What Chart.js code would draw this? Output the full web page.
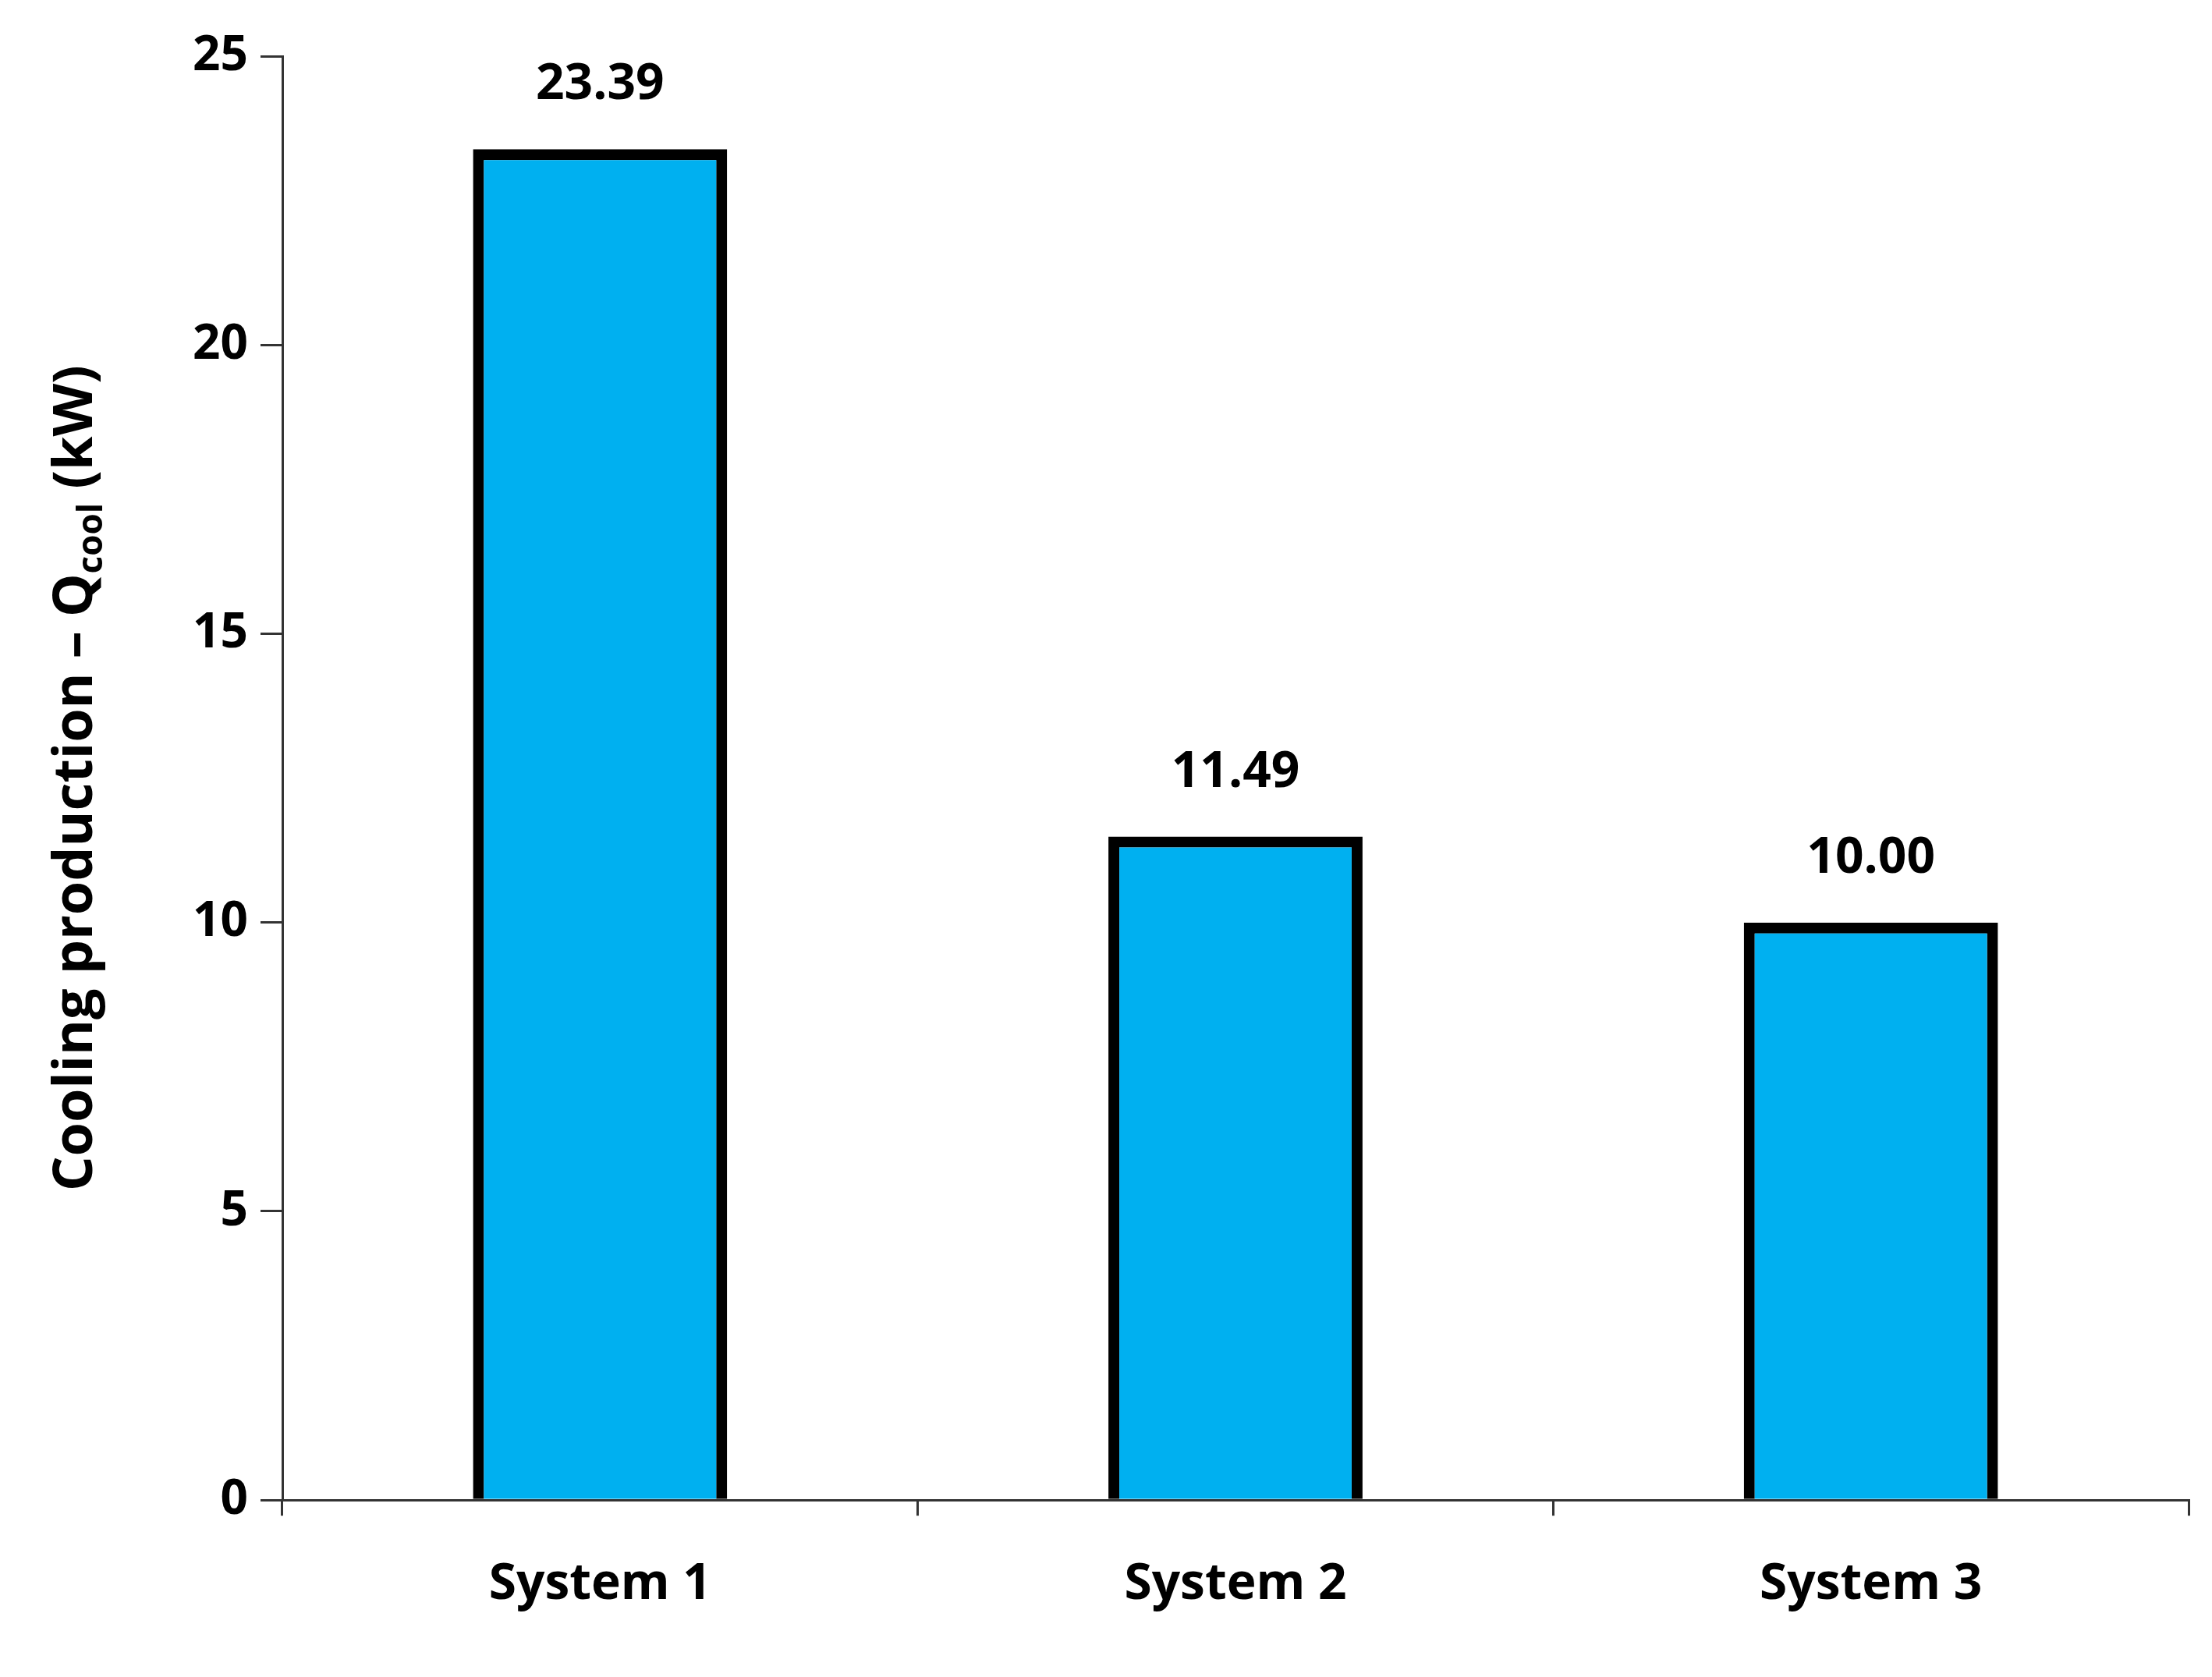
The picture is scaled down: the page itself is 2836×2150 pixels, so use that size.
<!DOCTYPE html>
<html>
<head>
<meta charset="utf-8">
<script src="https://cdn.jsdelivr.net/npm/chart.js@4/dist/chart.umd.min.js"></script>
<style>
  body { margin: 0; background: #fff; }
</style>
</head>
<body>
<canvas id="grafico" width="2836" height="2150"></canvas>
<script>
const categorias = ["System 1", "System 2", "System 3"];
const valores = [23.39, 11.49, 10.00];
const yTicks = [0, 5, 10, 15, 20, 25];

const fuente = "'Open Sans', 'Liberation Sans', sans-serif";

// value labels above bars + rotated y title with subscript
const extras = {
  id: "extras",
  afterDatasetsDraw(chart) {
    const ctx = chart.ctx;
    const meta = chart.getDatasetMeta(0);
    ctx.save();
    ctx.fillStyle = "#000";
    ctx.font = "bold 64px " + fuente;
    ctx.textAlign = "center";
    ctx.textBaseline = "bottom";
    meta.data.forEach((bar, i) => {
      ctx.fillText(valores[i].toFixed(2), bar.x, bar.y - 50);
    });

    const area = chart.chartArea;
    ctx.translate(98, (area.top + area.bottom) / 2);
    ctx.rotate(-Math.PI / 2);
    ctx.textBaseline = "middle";
    const parte1 = "Cooling production \u2013 Q";
    const sub = "cool";
    const parte2 = " (kW)";
    ctx.font = "bold 70px " + fuente;
    const w1 = ctx.measureText(parte1).width;
    const w3 = ctx.measureText(parte2).width;
    ctx.font = "bold 44px " + fuente;
    const w2 = ctx.measureText(sub).width;
    let x = -(w1 + w2 + w3) / 2;
    ctx.textAlign = "left";
    ctx.font = "bold 70px " + fuente;
    ctx.fillText(parte1, x, 0);
    x += w1;
    ctx.font = "bold 44px " + fuente;
    ctx.fillText(sub, x, 20);
    x += w2;
    ctx.font = "bold 70px " + fuente;
    ctx.fillText(parte2, x, 0);
    ctx.restore();
  }
};

new Chart(document.getElementById("grafico").getContext("2d"), {
  type: "bar",
  data: {
    labels: categorias,
    datasets: [{
      data: valores,
      backgroundColor: "#00b0f0",
      borderColor: "#000",
      borderWidth: 14,
      categoryPercentage: 1,
      barPercentage: 0.4
    }]
  },
  options: {
    responsive: false,
    animation: false,
    devicePixelRatio: 1,
    layout: { padding: { top: 72, right: 30, bottom: 30, left: 0 } },
    plugins: { legend: { display: false }, tooltip: { enabled: false } },
    scales: {
      y: {
        min: 0, max: 25,
        afterBuildTicks(axis) { axis.ticks = yTicks.map(v => ({ value: v })); },
        afterFit(axis) { axis.width = 362; },
        grid: { drawOnChartArea: false, tickLength: 28, color: "#333", lineWidth: 3 },
        border: { color: "#333", width: 3 },
        ticks: { color: "#000", font: { family: fuente, weight: "bold", size: 62 }, padding: 16 }
      },
      x: {
        grid: { drawOnChartArea: false, offset: true, tickLength: 20, color: "#333", lineWidth: 3 },
        border: { color: "#333", width: 3 },
        ticks: { color: "#000", font: { family: fuente, weight: "bold", size: 64 }, padding: 50 }
      }
    }
  },
  plugins: [extras]
});
</script>
</body>
</html>
